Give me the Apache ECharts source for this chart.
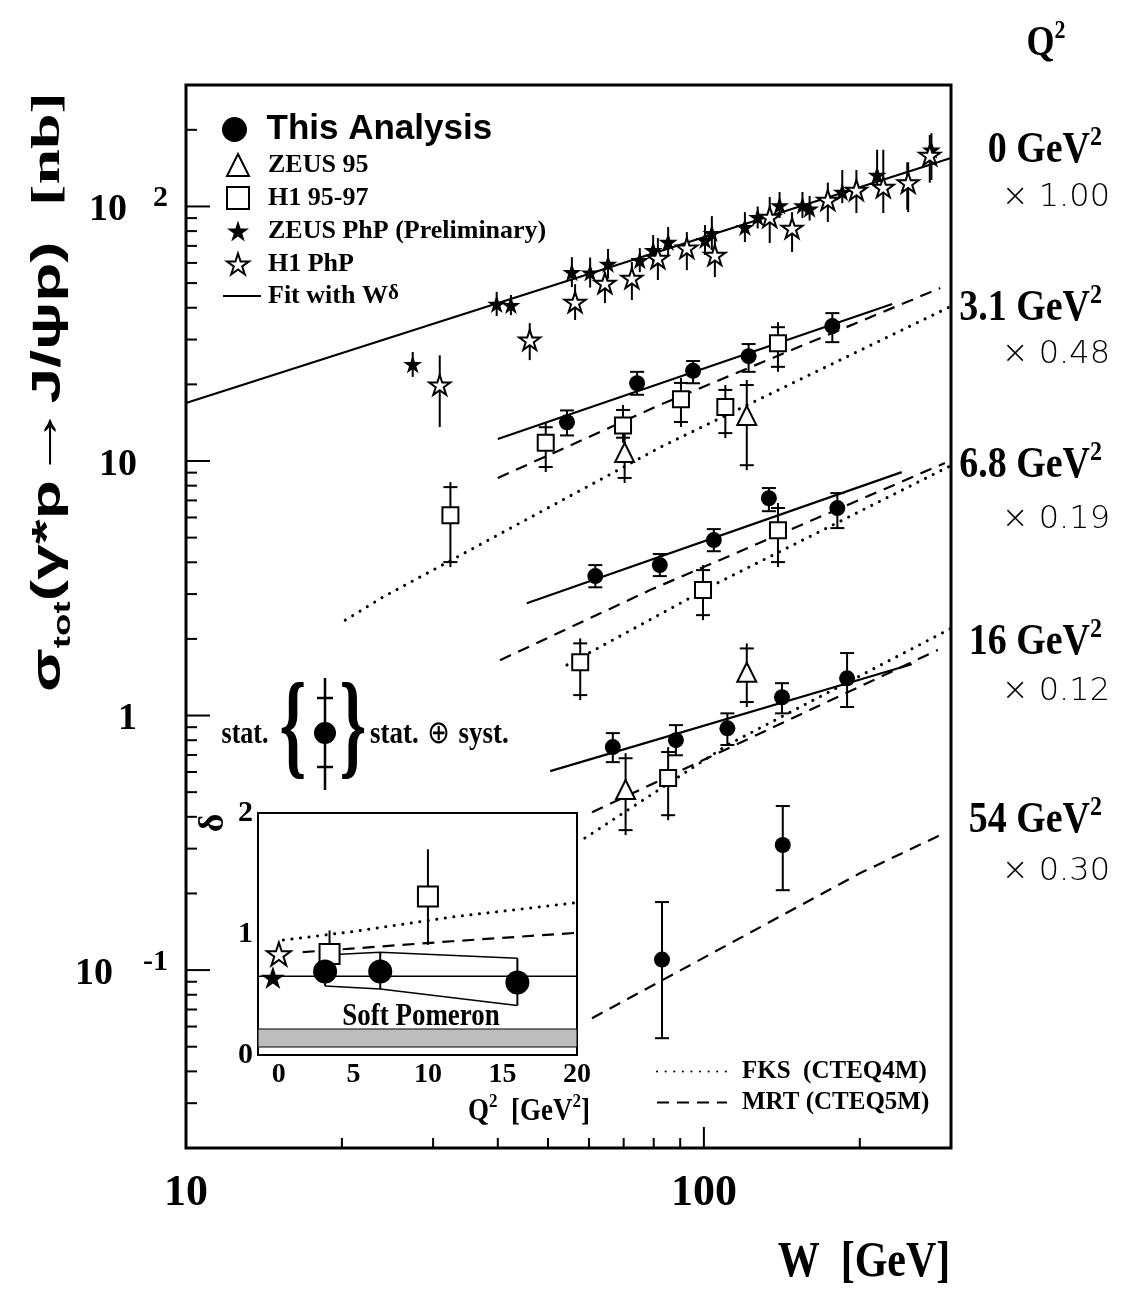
<!DOCTYPE html>
<html>
<head>
<meta charset="utf-8">
<title>sigma(gamma* p -> J/psi p) vs W</title>
<script src="https://cdn.jsdelivr.net/npm/echarts@6.0.0/dist/echarts.min.js"></script>
<style>
  html, body { margin: 0; background: #fff; }
  #main { width: 1136px; height: 1291px; }
</style>
</head>
<body>
<div id="main"></div>
<script>
// ---- data: [W (GeV), sigma (nb), bar low, bar high] ----
const zeusPhp = [
  [27.4, 24.0, 21.4, 26.8], [39.8, 41.4, 37.1, 46.2], [42.4, 41.0, 37.4, 44.9],
  [55.6, 55.2, 48.2, 63.2], [60.3, 55.0, 48.0, 63.0], [65.3, 59.5, 52.0, 68.1],
  [75.2, 61.5, 55.2, 68.6], [79.8, 67.4, 58.9, 77.2], [85.3, 72.5, 63.3, 83.0],
  [100.5, 73.8, 64.5, 84.5], [103.6, 78.6, 67.4, 91.6], [120, 83, 72.5, 95],
  [127, 90.8, 82, 100], [140, 101, 90, 114], [155, 101, 90, 114],
  [160, 98, 88, 110], [185, 114, 103, 139], [216, 133, 119, 167],
  [247, 125, 97, 149], [275, 167, 127, 194]
];
const h1Php = [
  [30.9, 19.9, 13.6, 26.0], [46.1, 29.9, 24.9, 34.8], [56.4, 42.1, 35.8, 49.5],
  [64.4, 50.0, 41.7, 55.2], [72.6, 52.3, 42.9, 60.5], [81.5, 62.7, 51.4, 75.1],
  [92.7, 68.7, 56.2, 79.3], [105, 64.4, 52.8, 79.3], [134, 90.9, 71.8, 109],
  [148, 82.2, 66.2, 95], [173.5, 106, 86.9, 124], [197, 116, 94.2, 139],
  [222, 119, 94.2, 167], [248, 124, 95, 149], [273, 159, 124, 191]
];
// this analysis, per Q2 bin (already scaled)
const oursQ3 = [[54.4, 14.2, 12.6, 15.8], [74.3, 20.2, 18.2, 22.4], [95.3, 22.6, 20.2, 24.7], [122, 25.8, 22.4, 28.8], [177, 33.9, 29.3, 38.1]];
const oursQ7 = [[61.7, 3.53, 3.19, 3.90], [82.2, 3.90, 3.53, 4.31], [104.5, 4.89, 4.42, 5.40], [133.5, 7.14, 6.35, 7.83], [181, 6.53, 5.45, 7.48]];
const oursQ16 = [[66.7, 0.752, 0.656, 0.853], [88.3, 0.800, 0.698, 0.917], [111, 0.891, 0.766, 1.02], [141.5, 1.18, 1.02, 1.34], [189, 1.40, 1.08, 1.76]];
const oursQ54 = [[83, 0.110, 0.054, 0.185], [142, 0.310, 0.206, 0.441]];
// H1 95-97 and ZEUS 95
const h1Q3 = [[32.4, 6.12, 3.83, 8.26], [49.5, 11.8, 9.05, 14.2], [69.8, 13.8, 11.8, 16.6], [90.3, 17.5, 13.6, 21.2], [110, 16.3, 12.3, 19.9], [139, 29.0, 22.4, 35.1]];
const h1Q7 = [[57.7, 1.62, 1.15, 2.01], [99.6, 3.11, 2.37, 3.90], [139, 5.35, 3.83, 6.84]];
const h1Q16 = [[85.3, 0.568, 0.388, 0.752]];
const zeusQ3 = [[70.3, 10.8, 8.2, 14.5], [121, 15.1, 9.2, 20.8]];
const zeusQ16 = [[70.6, 0.512, 0.339, 0.711], [121, 1.48, 1.08, 1.92]];

// curves: [W, sigma]
const fitQ0 = [[10, 16.9], [300, 155]];
const fitQ3 = [[40, 12.2], [231, 41.4]];
const fitQ7 = [[45.5, 2.76], [241, 9.04]];
const fitQ16 = [[50.5, 0.605], [252, 1.59]];
const fksQ3 = [[20.3, 2.37], [24.0, 2.92], [82.2, 11.3], [300, 40.5]];
const fksQ7 = [[54.4, 1.58], [106, 3.31], [300, 9.6]];
const fksQ16 = [[58.9, 0.330], [111, 0.766], [300, 2.2]];
const mrtQ3 = [[40, 8.57], [82.2, 16.6], [286, 47.8]];
const mrtQ7 = [[40.4, 1.65], [78.7, 3.11], [292, 9.82]];
const mrtQ16 = [[60.8, 0.417], [283, 1.81]];
const mrtQ54 = [[60.8, 0.0647], [200, 0.240], [286, 0.339]];

// inset: delta vs Q2  [Q2, delta, low, high]
const insetOurs = [[3.1, 0.69, 0.57, 0.826], [6.8, 0.69, 0.545, 0.85], [16, 0.60, 0.41, 0.80]];
const insetH1 = [[3.4, 0.835, 0.70, 1.03], [10, 1.31, 0.91, 1.70]];
const insetZeusPhp = [[-0.4, 0.64]];
const insetH1Php = [[0, 0.835]];
const insetFit = [[-1.4, 0.65], [20, 0.65]];
const insetFks = [[0.3, 0.95], [5, 1.02], [11.6, 1.14], [20, 1.26]];
const insetMrt = [[1.6, 0.85], [11.6, 0.94], [20, 1.01]];
const softPomeron = [[-1.4, 20, 0.066, 0.215]];

// right-hand labels
const q2Names = ['0', '3.1', '6.8', '16', '54'];
const q2Scale = ['1.00', '0.48', '0.19', '0.12', '0.30'];

// axis ranges
const W_MIN = 10, W_MAX = 300, S_MIN = 0.02, S_MAX = 300;

const SERIF = '"Liberation Serif", "Times New Roman", serif';
const SANS = '"Liberation Sans", Arial, sans-serif';
const STAR = 'path://M0,-10L2.245,-3.09L9.51,-3.09L3.633,1.18L5.88,8.09L0,3.82L-5.88,8.09L-3.633,1.18L-9.51,-3.09L-2.245,-3.09Z';
const DOTS = [0.1, 8.5], DASH = [12, 8];

function isPow10(v) {
  const l = Math.log10(v);
  return Math.abs(l - Math.round(l)) < 1e-6;
}

// tick positions on the log axes
const xTicks = [], yTicks = [];
for (let d = 10; d <= 100; d *= 10)
  for (let k = 1; k <= 9; k++) if (k * d <= W_MAX) xTicks.push([k * d, S_MIN]);
for (let d = 0.01; d <= 100.1; d *= 10)
  for (let k = 1; k <= 9; k++) {
    const v = +(k * d).toPrecision(3);
    if (v >= S_MIN && v <= S_MAX) yTicks.push([W_MIN, v]);
  }

function seg(x1, y1, x2, y2, w) {
  return { type: 'line', shape: { x1, y1, x2, y2 }, style: { stroke: '#000', lineWidth: w || 2 } };
}

function line(name, data, type, xi, width) {
  return {
    type: 'line', name, data, xAxisIndex: xi || 0, yAxisIndex: xi || 0,
    symbol: 'none', showSymbol: false, silent: true, z: 2,
    itemStyle: { color: 'rgba(0,0,0,0)', borderColor: 'rgba(0,0,0,0)' },
    lineStyle: { color: '#000', width: width || 2.2, type, cap: type === DOTS ? 'round' : 'butt' }
  };
}

function markers(name, data, symbol, size, filled, xi) {
  return {
    type: 'scatter', name, data, xAxisIndex: xi || 0, yAxisIndex: xi || 0,
    symbol, symbolSize: size, symbolKeepAspect: true, z: 4, silent: true,
    itemStyle: filled ? { color: '#000', opacity: 1 } : { color: '#fff', borderColor: '#000', borderWidth: 2, opacity: 1 }
  };
}

function bars(data, kind, xi) {
  return {
    type: 'custom', data, xAxisIndex: xi || 0, yAxisIndex: xi || 0, z: 3, silent: true,
    encode: { x: 0, y: 1 },
    renderItem(params, api) {
      const x = api.value(0);
      const top = api.coord([x, api.value(3)]);
      const bot = api.coord([x, api.value(2)]);
      const cx = top[0];
      const kids = [seg(cx, top[1], cx, bot[1])];
      if (kind === 'cap') {
        kids.push(seg(cx - 7, top[1], cx + 7, top[1]), seg(cx - 7, bot[1], cx + 7, bot[1]));
      } else if (kind === 'cross' && bot[1] - top[1] > 14) {
        kids.push(seg(cx - 7, top[1] + 5, cx + 7, top[1] + 5), seg(cx - 7, bot[1] - 5, cx + 7, bot[1] - 5));
      }
      return { type: 'group', children: kids };
    }
  };
}

function tickSeries(data, vertical) {
  return {
    type: 'custom', data, z: 5, silent: true, encode: { x: 0, y: 1 },
    renderItem(params, api) {
      const p = api.coord([api.value(0), api.value(1)]);
      if (vertical) {
        const len = isPow10(api.value(0)) ? 21 : 10;
        return seg(p[0], p[1], p[0], p[1] - len);
      }
      const len = isPow10(api.value(1)) ? 24 : 11;
      return seg(p[0], p[1], p[0] + len, p[1]);
    }
  };
}

const ours = [].concat(oursQ3, oursQ7, oursQ16, oursQ54);
const h1 = [].concat(h1Q3, h1Q7, h1Q16);
const zeus = [].concat(zeusQ3, zeusQ16);

function text(x, y, str, size, opts) {
  opts = opts || {};
  return {
    type: 'text', x, y, silent: true, z: 10,
    rotation: opts.rotation || 0, scaleX: opts.scaleX || 1, scaleY: opts.scaleY || 1,
    style: {
      text: str, fill: '#000', fontFamily: opts.family || SERIF, fontWeight: opts.weight || 'bold',
      fontSize: size, align: opts.align || 'center', verticalAlign: 'middle', rich: opts.rich
    }
  };
}

function supRich(size) {
  return {
    n: { fontFamily: SERIF, fontWeight: 'bold', fontSize: size, lineHeight: size + 4, verticalAlign: 'bottom' },
    s: { fontFamily: SERIF, fontWeight: 'bold', fontSize: Math.round(size * 0.62), verticalAlign: 'top' }
  };
}

const graphics = [
  // y axis title
  text(52, 392, '{a|σ}{t|tot}{a|(γ*p}{r|→}{a|J/ψp)  }{n|[nb]}', 40, {
    rotation: Math.PI / 2, scaleX: 1.6,
    rich: {
      a: { fontFamily: SANS, fontWeight: 'bold', fontSize: 40, lineHeight: 46, verticalAlign: 'bottom', padding: [0, 0, 6, 0] },
      r: { fontFamily: SANS, fontWeight: 'bold', fontSize: 48, lineHeight: 46, verticalAlign: 'bottom', padding: [0, 0, 6, 0] },
      t: { fontFamily: SANS, fontWeight: 'bold', fontSize: 23, lineHeight: 26, verticalAlign: 'bottom' },
      n: { fontFamily: SERIF, fontWeight: 'bold', fontSize: 40, lineHeight: 46, verticalAlign: 'bottom', padding: [0, 0, 6, 0] }
    }
  }),
  // x axis title
  text(864, 1263, 'W  [GeV]', 42, { scaleY: 1.2 }),
  // Q2 header
  text(1046, 42, '{n|Q}{s|2}', 36, { rich: supRich(36), scaleY: 1.15 }),
  // soft pomeron + inset titles
  text(421, 1017, 'Soft Pomeron', 27, { scaleY: 1.15 }),
  text(214, 823, 'δ', 36, { rotation: Math.PI / 2 }),
  text(590, 1110, '{n|Q}{s|2}{n|  [GeV}{s|2}{n|]}', 27, { align: 'right', rich: supRich(27), scaleY: 1.15 }),
  // stat / stat+syst key
  text(245, 735, 'stat.', 26, { scaleY: 1.2 }),
  text(293, 733, '{', 80, { scaleY: 1.45, scaleX: 0.85 }),
  text(353, 733, '}', 80, { scaleY: 1.45, scaleX: 0.85 }),
  text(370, 735, '{a|stat.}{o| ⊕ }{a|syst.}', 26, {
    align: 'left', scaleY: 1.2,
    rich: {
      a: { fontFamily: SERIF, fontWeight: 'bold', fontSize: 27 },
      o: { fontFamily: '"DejaVu Sans", sans-serif', fontSize: 27 }
    }
  }),
  { type: 'line', silent: true, z: 10, shape: { x1: 325, y1: 678, x2: 325, y2: 790 }, style: { stroke: '#000', lineWidth: 2.5 } },
  { type: 'line', silent: true, z: 10, shape: { x1: 317, y1: 698, x2: 333, y2: 698 }, style: { stroke: '#000', lineWidth: 2.5 } },
  { type: 'line', silent: true, z: 10, shape: { x1: 317, y1: 767, x2: 333, y2: 767 }, style: { stroke: '#000', lineWidth: 2.5 } },
  { type: 'circle', silent: true, z: 10, shape: { cx: 325, cy: 733, r: 11 }, style: { fill: '#000' } }
];
const nameY = [148, 306, 463, 640, 818], scaleY = [198, 355, 520, 692, 872];
q2Names.forEach((n, i) => {
  graphics.push(text(1102, nameY[i], '{n|' + n + ' GeV}{s|2}', 38, { align: 'right', rich: supRich(38), scaleY: 1.15 }));
  graphics.push(text(1110, scaleY[i], '× ' + q2Scale[i], 32, { align: 'right', family: '"DejaVu Sans", sans-serif', weight: 200 }));
});

const legendBase = { selectedMode: false, orient: 'vertical', padding: 0 };
const serifText = { color: '#000', fontFamily: SERIF, fontWeight: 'bold', fontSize: 26, lineHeight: 22 };

const option = {
  animation: false,
  backgroundColor: '#fff',
  grid: [
    { left: 186, top: 85, width: 765, height: 1063, show: true, borderColor: '#000', borderWidth: 3, backgroundColor: 'transparent' },
    { left: 258, top: 813, width: 319, height: 242, show: true, borderColor: '#000', borderWidth: 2, backgroundColor: '#fff', z: 6 }
  ],
  xAxis: [
    {
      type: 'log', logBase: 10, min: W_MIN, max: W_MAX, gridIndex: 0,
      axisLine: { show: false }, axisTick: { show: false }, splitLine: { show: false },
      axisLabel: {
        margin: 24, color: '#000', fontFamily: SERIF, fontWeight: 'bold', fontSize: 44,
        formatter: v => isPow10(v) ? String(Math.round(v)) : ''
      }
    },
    {
      type: 'value', min: -1.4, max: 20, gridIndex: 1,
      axisLine: { show: false }, splitLine: { show: false },
      axisTick: { show: true, inside: true, length: 6, lineStyle: { color: '#000', width: 1.5 },
        customValues: [-1, 0, 1, 2, 3, 4, 5, 6, 7, 8, 9, 10, 11, 12, 13, 14, 15, 16, 17, 18, 19, 20] },
      axisLabel: { customValues: [0, 5, 10, 15, 20], margin: 6, color: '#000', fontFamily: SERIF, fontWeight: 'bold', fontSize: 28 }
    }
  ],
  yAxis: [
    {
      type: 'log', logBase: 10, min: S_MIN, max: S_MAX, gridIndex: 0,
      axisLine: { show: false }, axisTick: { show: false }, splitLine: { show: false },
      axisLabel: {
        margin: 18, align: 'right', color: '#000',
        formatter: v => {
          if (!isPow10(v)) return '';
          const e = Math.round(Math.log10(v));
          if (e === 2) return '{b1|10}{s|2}';
          if (e === 1) return '{b2|10}';
          if (e === 0) return '{b2|1}';
          if (e === -1) return '{b3|10}{s|-1}';
          return '';
        },
        rich: {
          b1: { fontFamily: SERIF, fontWeight: 'bold', fontSize: 38, lineHeight: 46, verticalAlign: 'bottom', padding: [0, 26, 0, 0] },
          b2: { fontFamily: SERIF, fontWeight: 'bold', fontSize: 38, lineHeight: 46, verticalAlign: 'bottom', padding: [0, 31, 0, 0] },
          b3: { fontFamily: SERIF, fontWeight: 'bold', fontSize: 38, lineHeight: 46, verticalAlign: 'bottom', padding: [0, 30, 0, 0] },
          s: { fontFamily: SERIF, fontWeight: 'bold', fontSize: 30, verticalAlign: 'top' }
        }
      }
    },
    {
      type: 'value', min: 0, max: 2, interval: 0.5, gridIndex: 1,
      axisLine: { show: false }, splitLine: { show: false },
      axisTick: { show: true, inside: true, length: 7, lineStyle: { color: '#000', width: 1.5 } },
      axisLabel: {
        margin: 5, color: '#000', fontFamily: SERIF, fontWeight: 'bold', fontSize: 30,
        formatter: v => Number.isInteger(v) ? String(v) : ''
      }
    }
  ],
  legend: [
    Object.assign({}, legendBase, {
      data: ['This Analysis'], left: 222, top: 112, itemWidth: 28, itemHeight: 25,
      textStyle: { color: '#000', fontFamily: SANS, fontWeight: 'bold', fontSize: 35, padding: [0, 0, 0, 13] }
    }),
    Object.assign({}, legendBase, {
      data: ['ZEUS 95', 'H1 95-97', 'ZEUS PhP (Preliminary)', 'H1 PhP'],
      left: 226, top: 152, itemWidth: 22, itemHeight: 22, itemGap: 7,
      textStyle: Object.assign({ padding: [0, 0, 0, 14] }, serifText)
    }),
    Object.assign({}, legendBase, {
      data: ['Fit with Wδ'], left: 222, top: 283, itemWidth: 38, itemHeight: 22,
      formatter: () => 'Fit with W{sup|δ}',
      textStyle: Object.assign({
        padding: [0, 0, 0, 2],
        rich: { sup: { fontFamily: SERIF, fontWeight: 'bold', fontSize: 21, verticalAlign: 'top', lineHeight: 26 } }
      }, serifText)
    }),
    Object.assign({}, legendBase, {
      data: ['FKS  (CTEQ4M)', 'MRT (CTEQ5M)'],
      left: 656, top: 1059, itemWidth: 70, itemHeight: 22, itemGap: 6,
      textStyle: Object.assign({ padding: [0, 0, 0, 10] }, serifText, { fontSize: 25 })
    })
  ],
  graphic: graphics,
  series: [
    // main plot curves
    line('Fit with Wδ', fitQ0, 'solid'),
    line('Fit with Wδ', fitQ3, 'solid'),
    line('Fit with Wδ', fitQ7, 'solid'),
    line('Fit with Wδ', fitQ16, 'solid'),
    line('FKS  (CTEQ4M)', fksQ3, DOTS, 0, 3),
    line('FKS  (CTEQ4M)', fksQ7, DOTS, 0, 3),
    line('FKS  (CTEQ4M)', fksQ16, DOTS, 0, 3),
    line('MRT (CTEQ5M)', mrtQ3, DASH),
    line('MRT (CTEQ5M)', mrtQ7, DASH),
    line('MRT (CTEQ5M)', mrtQ16, DASH),
    line('MRT (CTEQ5M)', mrtQ54, DASH),
    // error bars
    bars(zeusPhp, 'none'),
    bars(h1Php, 'none'),
    bars(ours, 'cap'),
    bars(h1, 'cross'),
    bars(zeus, 'cross'),
    // markers
    markers('ZEUS PhP (Preliminary)', zeusPhp, STAR, 19, true),
    markers('H1 PhP', h1Php, STAR, 21, false),
    markers('H1 95-97', h1, 'rect', 16, false),
    markers('ZEUS 95', zeus, 'triangle', 19, false),
    markers('This Analysis', ours, 'circle', 16, true),
    // axis ticks
    tickSeries(xTicks, true),
    tickSeries(yTicks, false),
    // inset
    {
      type: 'custom', data: softPomeron, xAxisIndex: 1, yAxisIndex: 1, z: 7, silent: true,
      encode: { x: [0, 1], y: [2, 3] },
      renderItem(params, api) {
        const a = api.coord([api.value(0), api.value(3)]);
        const b = api.coord([api.value(1), api.value(2)]);
        return { type: 'rect', shape: { x: a[0], y: a[1], width: b[0] - a[0], height: b[1] - a[1] },
          style: { fill: '#bdbdbd', stroke: '#000', lineWidth: 1 } };
      }
    },
    Object.assign(line('fks inset', insetFks, DOTS, 1, 3), { z: 8 }),
    Object.assign(line('mrt inset', insetMrt, DASH, 1, 2.2), { z: 8 }),
    Object.assign(line('fit inset', insetFit, 'solid', 1, 1.5), { z: 8 }),
    Object.assign(line('band hi', insetOurs.map(p => [p[0], p[3]]), 'solid', 1, 1.5), { z: 8 }),
    Object.assign(line('band lo', insetOurs.map(p => [p[0], p[2]]), 'solid', 1, 1.5), { z: 8 }),
    Object.assign(bars(insetOurs, 'none', 1), { z: 8 }),
    Object.assign(bars(insetH1, 'none', 1), { z: 8 }),
    Object.assign(markers('h1 inset', insetH1, 'rect', 20, false, 1), { z: 9 }),
    Object.assign(markers('ours inset', insetOurs, 'circle', 24, true, 1), { z: 9 }),
    Object.assign(markers('h1php inset', insetH1Php, STAR, 24, false, 1), { z: 9 }),
    Object.assign(markers('zeusphp inset', insetZeusPhp, STAR, 24, true, 1), { z: 9 })
  ]
};

const chart = echarts.init(document.getElementById('main'), null, { renderer: 'canvas' });
chart.setOption(option);
</script>
</body>
</html>
